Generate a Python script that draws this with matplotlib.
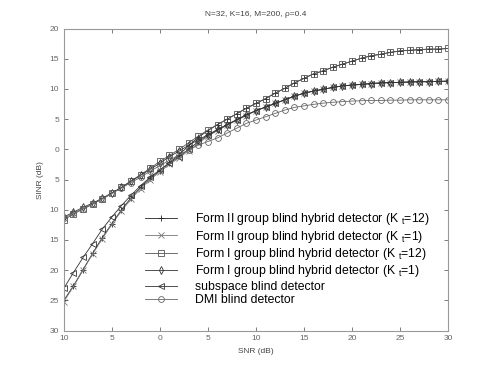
import numpy as np
import matplotlib
matplotlib.use("Agg")
import matplotlib.pyplot as plt
from matplotlib.ticker import FuncFormatter

plt.rcParams['font.family'] = ['Liberation Sans', 'DejaVu Sans']
plt.rcParams['mathtext.fontset'] = 'custom'
plt.rcParams['mathtext.rm'] = 'Liberation Sans'
plt.rcParams['mathtext.it'] = 'Liberation Sans'

snr = np.arange(-10, 31)

form2_kt12 = [-25.0, -22.6, -19.9, -17.2, -14.6, -12.3, -10.0, -8.0, -6.3, -4.8,
              -3.5, -2.2, -0.9, 0.6, 2.0, 3.1, 4.1, 5.0, 5.9, 6.8,
              7.6, 8.4, 9.3, 10.1, 11.0, 11.75, 12.5, 13.0, 13.6, 14.1,
              14.6, 15.1, 15.5, 15.75, 16.05, 16.3, 16.4, 16.5, 16.6, 16.6, 16.7]
form2_kt1 = [-25.2, -22.7, -20.0, -17.3, -14.8, -12.4, -10.2, -8.2, -6.5, -5.0,
             -3.7, -2.5, -1.4, -0.2, 1.0, 2.2, 3.1, 4.0, 4.8, 5.6,
             6.4, 7.0, 7.6, 8.2, 8.8, 9.3, 9.65, 9.95, 10.25, 10.5,
             10.65, 10.75, 10.9, 11.0, 11.05, 11.1, 11.15, 11.2, 11.2, 11.25, 11.3]
form1_kt12 = [-11.7, -10.7, -9.9, -9.1, -8.2, -7.3, -6.3, -5.2, -4.2, -3.1,
              -2.0, -1.0, 0.0, 1.1, 2.2, 3.2, 4.1, 5.0, 5.9, 6.8,
              7.6, 8.4, 9.3, 10.1, 11.0, 11.75, 12.5, 13.0, 13.6, 14.1,
              14.6, 15.1, 15.5, 15.75, 16.05, 16.3, 16.4, 16.5, 16.6, 16.6, 16.7]
form1_kt1 = [-11.2, -10.4, -9.6, -8.9, -8.1, -7.2, -6.3, -5.3, -4.3, -3.3,
             -2.3, -1.2, -0.3, 0.7, 1.6, 2.4, 3.3, 4.1, 4.9, 5.7,
             6.4, 7.0, 7.6, 8.2, 8.8, 9.3, 9.65, 9.95, 10.25, 10.5,
             10.65, 10.75, 10.9, 11.0, 11.05, 11.1, 11.15, 11.2, 11.2, 11.25, 11.3]
subspace = [-23.0, -20.4, -17.9, -15.6, -13.2, -11.2, -9.3, -7.6, -6.0, -4.6,
            -3.4, -2.3, -1.2, 0.0, 1.3, 2.3, 3.2, 4.1, 4.9, 5.7,
            6.4, 7.0, 7.6, 8.2, 8.8, 9.3, 9.65, 9.95, 10.25, 10.5,
            10.65, 10.75, 10.9, 11.0, 11.05, 11.1, 11.15, 11.2, 11.2, 11.25, 11.3]
dmi = [-11.4, -10.6, -9.8, -9.0, -8.2, -7.3, -6.4, -5.5, -4.6, -3.6,
       -2.7, -1.8, -0.9, -0.1, 0.7, 1.3, 1.9, 2.7, 3.5, 4.3,
       4.85, 5.4, 5.95, 6.5, 6.95, 7.2, 7.45, 7.65, 7.8, 7.9,
       8.0, 8.05, 8.1, 8.1, 8.15, 8.15, 8.2, 8.2, 8.2, 8.2, 8.2]

labels = ["Form II group blind hybrid detector (K $_t$=12)",
          "Form II group blind hybrid detector (K $_t$=1)",
          "Form I group blind hybrid detector (K $_t$=12)",
          "Form I group blind hybrid detector (K $_t$=1)",
          "subspace blind detector",
          "DMI blind detector"]

fig = plt.figure(figsize=(4.95, 3.71), dpi=100)
ax = fig.add_axes([0.129, 0.109, 0.776, 0.814])

ax.plot(snr, form2_kt12, '-+', color='#222222', lw=0.6, ms=5, mew=0.6, label=labels[0])
ax.plot(snr, form2_kt1, '-x', color='#777777', lw=0.6, ms=4, mew=0.6, label=labels[1])
ax.plot(snr, form1_kt12, '-s', color='#555555', lw=0.6, ms=3.7, mew=0.6, mfc='none', label=labels[2])
ax.plot(snr, form1_kt1, '-d', color='#333333', lw=0.6, ms=3.7, mew=0.6, mfc='none', label=labels[3])
ax.plot(snr, subspace, '-<', color='#333333', lw=0.6, ms=3.7, mew=0.6, mfc='none', label=labels[4])
ax.plot(snr, dmi, '-o', color='#666666', lw=0.6, ms=4.2, mew=0.6, mfc='none', label=labels[5])

ax.set_xlim(-10, 30)
ax.set_ylim(-30, 20)
ax.set_xticks(np.arange(-10, 31, 5))
ax.set_yticks(np.arange(-30, 21, 5))
# reference prints tick values without the minus sign
ax.xaxis.set_major_formatter(FuncFormatter(lambda v, p: '%d' % abs(v)))
ax.yaxis.set_major_formatter(FuncFormatter(lambda v, p: '%d' % abs(v)))
ax.tick_params(direction='in', top=True, right=True, labelsize=6,
               colors='#666666', length=3, width=0.6)
for s in ax.spines.values():
    s.set_color('#999999')
    s.set_linewidth(0.8)

ax.set_title("N=32, K=16, M=200, \u03c1=0.4", fontsize=6, color='#444444', pad=9)
ax.set_xlabel("SNR (dB)", fontsize=6, color='#444444')
ax.set_ylabel("SINR (dB)", fontsize=6, color='#444444')

ax.legend(loc='lower left', bbox_to_anchor=(0.211, 0.08), frameon=False, fontsize=8.8,
          handlelength=2.6, labelspacing=0.12, handletextpad=1.5, borderaxespad=0,
          borderpad=0)

fig.savefig("out.png", dpi=100)
